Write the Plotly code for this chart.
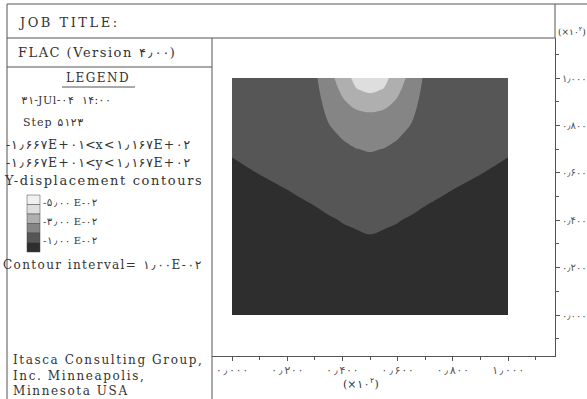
import plotly.graph_objects as go

W, H = 587, 399

# model grid, x and y in units of 10^2
grid_x = [0.0, 0.1, 0.2, 0.3, 0.35, 0.4, 0.45, 0.5, 0.55, 0.6, 0.65, 0.7, 0.8, 0.9, 1.0]
grid_y = [0.0, 0.1, 0.2, 0.3, 0.4, 0.5, 0.6, 0.65, 0.7, 0.75, 0.8, 0.85, 0.9, 0.95, 1.0]

# y-displacement, in units of 1E-02 (rows follow grid_y)
y_disp = [
    [-0.20, -0.26, -0.32, -0.38, -0.42, -0.46, -0.49, -0.50, -0.49, -0.46, -0.42, -0.38, -0.32, -0.26, -0.20],
    [-0.32, -0.38, -0.45, -0.51, -0.56, -0.60, -0.63, -0.65, -0.63, -0.60, -0.56, -0.51, -0.45, -0.38, -0.32],
    [-0.44, -0.51, -0.58, -0.65, -0.69, -0.74, -0.77, -0.79, -0.77, -0.74, -0.69, -0.65, -0.58, -0.51, -0.44],
    [-0.56, -0.63, -0.71, -0.78, -0.82, -0.87, -0.89, -0.90, -0.89, -0.87, -0.82, -0.78, -0.71, -0.63, -0.56],
    [-0.68, -0.76, -0.83, -0.91, -0.95, -1.02, -1.07, -1.15, -1.07, -1.02, -0.95, -0.91, -0.83, -0.76, -0.68],
    [-0.80, -0.88, -0.96, -1.06, -1.18, -1.30, -1.39, -1.44, -1.39, -1.30, -1.18, -1.06, -0.96, -0.88, -0.80],
    [-0.92, -1.01, -1.10, -1.21, -1.45, -1.58, -1.70, -1.73, -1.70, -1.58, -1.45, -1.21, -1.10, -1.01, -0.92],
    [-0.98, -1.08, -1.17, -1.29, -1.58, -1.74, -1.86, -1.89, -1.86, -1.74, -1.58, -1.29, -1.17, -1.08, -0.98],
    [-1.05, -1.15, -1.25, -1.37, -1.71, -1.88, -1.99, -2.04, -1.99, -1.88, -1.71, -1.37, -1.25, -1.15, -1.05],
    [-1.12, -1.22, -1.32, -1.45, -1.84, -2.03, -2.21, -2.34, -2.21, -2.03, -1.84, -1.45, -1.32, -1.22, -1.12],
    [-1.20, -1.29, -1.39, -1.53, -1.97, -2.29, -2.53, -2.64, -2.53, -2.29, -1.97, -1.53, -1.39, -1.29, -1.20],
    [-1.27, -1.37, -1.46, -1.61, -2.14, -2.58, -2.84, -2.94, -2.84, -2.58, -2.14, -1.61, -1.46, -1.37, -1.27],
    [-1.35, -1.44, -1.54, -1.68, -2.31, -2.88, -3.31, -3.53, -3.31, -2.88, -2.31, -1.68, -1.54, -1.44, -1.35],
    [-1.42, -1.51, -1.61, -1.76, -2.49, -3.18, -3.94, -4.19, -3.94, -3.18, -2.49, -1.76, -1.61, -1.51, -1.42],
    [-1.50, -1.58, -1.68, -1.84, -2.66, -3.48, -4.30, -4.80, -4.30, -3.48, -2.66, -1.84, -1.68, -1.58, -1.50],
]

level_start, level_end, level_size = -6, 0, 1
# fill for each band, from the most negative band to the least negative one
band_colors = ["#f0f0f0", "#dedede", "#afafaf", "#858585", "#565656", "#2e2e2e"]

axis_ticks = [0.0, 0.2, 0.4, 0.6, 0.8, 1.0]
axis_ticktext = ["۰٫۰۰۰", "۰٫۲۰۰", "۰٫۴۰۰", "۰٫۶۰۰", "۰٫۸۰۰", "۱٫۰۰۰"]
minor_ticks = [-0.1, 0.1, 0.3, 0.5, 0.7, 0.9, 1.1]

legend_labels = ["-۵٫۰۰ E-۰۲", "-۳٫۰۰ E-۰۲", "-۱٫۰۰ E-۰۲"]

FONT = "DejaVu Serif, DejaVu Sans, serif"
DIGIT_FONT = "DejaVu Sans Mono, DejaVu Sans"
INK = "#333333"
FRAME = "#555555"
PERSIAN = set("۰۱۲۳۴۵۶۷۸۹٫")


def px(x):
    return x / W


def py(y):
    return 1 - y / H


def spaced(text, gap):
    return f'<span style="letter-spacing:{gap}px">{text}</span>'


def wide_digits(text):
    # browsers ignore letter-spacing on Arabic-script digits, so give them a monospaced face
    out, run = [], ""
    for ch in text + "\n":
        if ch in PERSIAN:
            run += ch
            continue
        if run:
            out.append(f'<span style="font-family:{DIGIT_FONT}">{run}</span>')
            run = ""
        if ch != "\n":
            out.append(ch)
    return "".join(out)


# stepwise scale so every band gets one flat grey
n_bands = len(band_colors)
colorscale = []
for i, c in enumerate(band_colors):
    colorscale.append([i / n_bands, c])
    colorscale.append([(i + 1) / n_bands, c])

fig = go.Figure()

fig.add_trace(go.Contour(
    x=grid_x, y=grid_y, z=y_disp,
    zmin=level_start, zmax=level_end,
    autocontour=False,
    contours=dict(start=level_start, end=level_end, size=level_size,
                  coloring="fill", showlines=False),
    colorscale=colorscale, showscale=False,
    line=dict(width=0, smoothing=1.0),
    hoverinfo="skip",
))

# pixel frame of the plot window: field 0..1 maps to x 232..508 and y 315..78
x0_px, x1_px = 232, 508
y0_px, y1_px = 315, 78
fx = (x1_px - x0_px)
fy = (y0_px - y1_px)
left, right, top, bottom = 212, 555, 38, 356

# the right-hand labels must stay inside the window, so they keep the narrower face
x_tick_font = dict(size=11, color="#555555", family=DIGIT_FONT)
y_tick_font = dict(size=10, color="#555555", family="DejaVu Sans")

fig.update_layout(
    width=W, height=H,
    margin=dict(l=0, r=0, t=0, b=0),
    paper_bgcolor="white", plot_bgcolor="white",
    showlegend=False,
    font=dict(family=FONT, color=INK),
    xaxis=dict(
        domain=[px(left), px(right)],
        range=[(left - x0_px) / fx, (right - x0_px) / fx],
        tickmode="array", tickvals=axis_ticks, ticktext=axis_ticktext,
        ticks="outside", ticklen=4, tickcolor=FRAME,
        minor=dict(tickvals=minor_ticks, ticks="outside", ticklen=3, tickcolor=FRAME),
        showline=True, linecolor=FRAME, linewidth=1,
        showgrid=False, zeroline=False,
        tickfont=x_tick_font,
    ),
    yaxis=dict(
        domain=[py(bottom), py(top)],
        range=[(y0_px - bottom) / fy, (y0_px - top) / fy],
        side="right",
        tickmode="array", tickvals=axis_ticks, ticktext=axis_ticktext,
        ticks="outside", ticklen=4, tickcolor=FRAME,
        minor=dict(tickvals=minor_ticks, ticks="outside", ticklen=3, tickcolor=FRAME),
        showline=True, linecolor=FRAME, linewidth=1,
        showgrid=False, zeroline=False,
        tickfont=y_tick_font,
    ),
)

# frame lines around the title row and the legend panel
frame_lines = [
    (7, 4, 587, 4),
    (7, 4, 7, 399),
    (7, top, right, top),
    (left, top, left, 399),
    (7, 67, left, 67),
    (right, 4, right, top),
    (62, 87, 135, 87),
]
for xa, ya, xb, yb in frame_lines:
    fig.add_shape(type="line", xref="paper", yref="paper",
                  x0=px(xa), y0=py(ya), x1=px(xb), y1=py(yb),
                  line=dict(color=FRAME, width=1))

# legend colour boxes, lightest on top
box_top, box_h = 195, 9.5
for i, c in enumerate(band_colors):
    fig.add_shape(type="rect", xref="paper", yref="paper",
                  x0=px(27), x1=px(40),
                  y0=py(box_top + i * box_h), y1=py(box_top + (i + 1) * box_h),
                  fillcolor=c, line=dict(color="#444444", width=0.5))


def label(text, x, y, size, anchor="left", gap=0, mono=True):
    if mono:
        text = wide_digits(text)
    if gap:
        text = spaced(text, gap)
    fig.add_annotation(text=text, x=px(x), y=py(y), xref="paper", yref="paper",
                       xanchor=anchor, yanchor="middle", showarrow=False,
                       font=dict(size=size, color=INK, family=FONT))


label("JOB TITLE:", 16, 22, 13, gap=2.5)
label("FLAC (Version ۴٫۰۰)", 16, 53, 13, gap=1.5)
label("LEGEND", 98, 78, 12, anchor="center", gap=1.5)
label("۳۱-JUl-۰۴  ۱۴:۰۰", 19, 100, 11, gap=0.5)
label("Step ۵۱۲۳", 21, 122, 11, gap=1)
label("-۱٫۶۶۷E+۰۱&lt;x&lt;۱٫۱۶۷E+۰۲", 4, 145, 12.5, gap=1.3)
label("-۱٫۶۶۷E+۰۱&lt;y&lt;۱٫۱۶۷E+۰۲", 4, 162, 12.5, gap=1.3)
label("Y-displacement contours", 2, 180, 13, gap=1.6)
for i, t in enumerate(legend_labels):
    label(t, 41, box_top + (2 * i + 1) * box_h - 2, 10, gap=0.5)
label("Contour interval= ۱٫۰۰E-۰۲", 1, 265, 12, gap=1.4)
label("Itasca Consulting Group,", 11, 360, 12, gap=1.6)
label("Inc. Minneapolis,", 11, 376, 12, gap=1.6)
label("Minnesota USA", 11, 391, 12, gap=1.6)
label("(×۱۰<sup>۲</sup>)", 556, 31, 9, mono=False)
label("(×۱۰<sup>۲</sup>)", 361, 383, 11, anchor="center")

# the page body has a default margin; pin the figure to the window corner
page_fix = ("document.body.style.margin='0';"
            "document.body.style.overflow='hidden';")
fig.write_html("out.html", config={"displayModeBar": False}, post_script=page_fix)
